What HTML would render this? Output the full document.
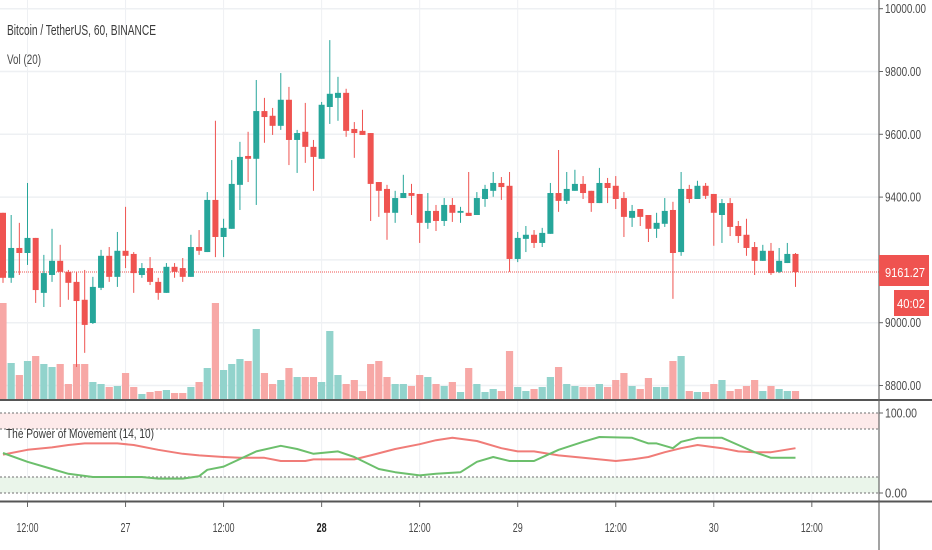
<!DOCTYPE html>
<html><head><meta charset="utf-8"><style>
html,body{margin:0;padding:0;background:#fff;}
svg{display:block;font-family:"Liberation Sans",sans-serif;}
</style></head>
<body>
<svg id="chart" width="932" height="550" viewBox="0 0 932 550" xmlns="http://www.w3.org/2000/svg"></svg>
<script>
// ---------- data ----------
const opens  = [9350,9143,9238,9222,9270,9095,9152,9197,9162,9130,9073,8999,9111,9213,9146,9229,9219,9152,9174,9130,9095,9178,9174,9146,9241,9225,9391,9273,9299,9439,9531,9522,9674,9659,9627,9710,9582,9608,9560,9522,9687,9716,9732,9617,9611,9604,9448,9426,9350,9397,9413,9410,9318,9356,9324,9375,9350,9350,9343,9394,9420,9445,9436,9203,9267,9280,9254,9283,9413,9388,9420,9442,9420,9381,9445,9436,9397,9334,9362,9343,9299,9315,9359,9225,9426,9394,9436,9410,9343,9381,9308,9280,9241,9197,9229,9162,9190,9219];
const highs  = [9350,9343,9318,9445,9270,9216,9299,9248,9168,9162,9168,9146,9232,9241,9289,9369,9225,9190,9209,9143,9190,9190,9206,9280,9295,9416,9643,9331,9518,9576,9608,9773,9716,9684,9795,9751,9614,9700,9582,9703,9900,9783,9745,9639,9678,9604,9448,9439,9420,9471,9442,9410,9413,9375,9397,9397,9369,9480,9416,9439,9480,9464,9480,9289,9308,9295,9302,9445,9550,9480,9487,9467,9420,9493,9461,9467,9416,9375,9362,9343,9350,9397,9385,9480,9439,9452,9445,9410,9394,9397,9324,9331,9257,9248,9254,9238,9254,9222];
const lows   = [9127,9127,9152,9184,9063,9050,9130,9050,9073,8859,8904,8996,9104,9130,9114,9174,9095,9143,9120,9073,9095,9143,9130,9146,9216,9225,9209,9209,9299,9359,9448,9375,9573,9598,9614,9502,9477,9509,9420,9522,9633,9643,9592,9525,9598,9324,9337,9264,9318,9397,9343,9254,9299,9292,9308,9321,9318,9340,9343,9369,9401,9391,9162,9193,9225,9238,9241,9283,9353,9378,9420,9394,9353,9381,9381,9362,9273,9305,9308,9257,9270,9305,9076,9213,9381,9394,9394,9245,9254,9276,9254,9213,9152,9197,9152,9158,9190,9114];
const closes = [9143,9238,9222,9270,9104,9158,9197,9162,9127,9069,8993,9114,9213,9146,9229,9213,9158,9174,9130,9095,9178,9162,9146,9241,9229,9391,9273,9302,9442,9528,9522,9674,9655,9627,9710,9582,9604,9560,9528,9694,9729,9732,9611,9604,9598,9442,9420,9350,9397,9413,9404,9318,9356,9324,9375,9350,9356,9340,9397,9426,9445,9432,9203,9270,9280,9254,9286,9413,9388,9426,9442,9413,9381,9445,9429,9394,9337,9356,9337,9299,9318,9356,9222,9426,9394,9436,9404,9350,9381,9305,9276,9238,9197,9229,9158,9197,9219,9161.27];
const volumes = [970,370,250,390,440,360,330,360,160,360,360,180,160,130,140,270,130,60,80,90,100,70,70,130,180,320,970,300,360,410,390,710,270,160,200,320,230,230,230,180,690,250,160,200,90,360,390,230,160,160,140,250,230,160,140,180,80,320,160,80,110,90,490,130,90,110,130,230,330,160,140,130,130,160,130,200,270,140,110,220,130,130,390,440,90,80,80,160,200,90,110,140,200,90,140,110,90,90];
const priceTicks = [10000,9800,9600,9400,9200,9000,8800];
const timeTickIdx = [3,15,27,39,51,63,75,87,99];
const timeTickLabels = ["12:00","27","12:00","28","12:00","29","12:00","30","12:00"];
const pomRedIdx = [0,3,6,8,10,14,16,19,22,24,27,29,32,34,37,38,43,45,48,51,53,55,58,61,63,65,68,71,75,77,79,81,83,85,88,90,92,94,97];
const pomRed    = [48,54,57,60,62,62,60,54,49,47,45,44,44,40,40,42,42,47,55,61,66,69,65,56,52,52,47,44,40,42,45,51,56,60,56,52,51,51,56];
const pomGreenIdx = [0,3,6,8,11,17,19,22,24,25,27,31,34,36,38,41,43,46,48,51,53,56,58,60,62,65,68,71,73,77,79,80,82,83,85,88,90,92,94,97];
const pomGreen    = [50,39,30,24,20,20,18,18,21,29,33,52,59,55,49,52,45,30,26,22,24,26,39,45,40,40,54,64,70,69,62,62,56,64,69,69,60,51,44,44];
const lastPrice = 9161.27;

// ---------- scales ----------
const PLOT_R = 879;
function xOf(i){ return 3 + i*8.17; }
function yPrice(p){ return 322.7 - (p-9000)*0.314; }
function volH(v){ return v*0.1; }
function yPom(v){ return 493 - v*0.8; }

const NS = "http://www.w3.org/2000/svg";
const svg = document.getElementById('chart');
function el(tag, attrs, parent){
  const e = document.createElementNS(NS, tag);
  for (const k in attrs) e.setAttribute(k, attrs[k]);
  (parent||svg).appendChild(e);
  return e;
}
function txt(str, attrs, parent){ const t = el('text', attrs, parent); t.textContent = str; return t; }

// grid
const grid = el('g', {});


priceTicks.forEach(p => {
  const l = el('line', {x1:0, x2:PLOT_R, y1:yPrice(p), y2:yPrice(p), stroke:'#eef0f3', 'stroke-width':1.5}, grid);
  
  
});
timeTickIdx.forEach(i => {
  const l = el('line', {x1:xOf(i), x2:xOf(i), y1:0, y2:501, stroke:'#eef0f3', 'stroke-width':1}, grid);
  
  
});

// volumes
const vg = el('g', {});


volumes.forEach((v,i) => {
  const up = closes[i] >= opens[i];
  const h = volH(v);
  const r = el('rect', {x:xOf(i)-3.6, y:400-h, width:7.2, height:h, fill: up ? '#92d3cc' : '#f7a8a6'}, vg);
  
  
});

// last price line
const lp = el('line', {x1:0, x2:PLOT_R, y1:yPrice(lastPrice), y2:yPrice(lastPrice), stroke:'#ef5350', 'stroke-width':1, 'stroke-dasharray':'1 1'});



// candles
const cg = el('g', {});


opens.forEach((o,i) => {
  const c = closes[i], up = c >= o, col = up ? '#26a69a' : '#ef5350';
  const x = xOf(i);
  const w = el('line', {x1:x, x2:x, y1:yPrice(highs[i]), y2:yPrice(lows[i]), stroke:col, 'stroke-width':1}, cg);
  
  
  const top = yPrice(Math.max(o,c)), bot = yPrice(Math.min(o,c));
  const b = el('rect', {x:x-3, y:top, width:6, height:Math.max(1.5, bot-top), fill:col}, cg);
  
  
});

// indicator pane
const ip = el('g', {});


const b1 = el('rect', {x:0, y:yPom(100), width:PLOT_R, height:yPom(80)-yPom(100), fill:'#fdeaea'}, ip);


const b2 = el('rect', {x:0, y:yPom(20), width:PLOT_R, height:yPom(0)-yPom(20), fill:'#eaf5ea'}, ip);


[100,80,20,0].forEach(v => {
  const l = el('line', {x1:0, x2:PLOT_R, y1:yPom(v), y2:yPom(v), stroke:'#8a8a8a', 'stroke-width':1.3, 'stroke-dasharray':'2 2'}, ip);
  
  
});
function pts(idx, vals){ return idx.map((i,k) => xOf(i).toFixed(1)+','+yPom(vals[k]).toFixed(1)).join(' '); }
const rl = el('polyline', {points:pts(pomRedIdx,pomRed), fill:'none', stroke:'#f07c78', 'stroke-width':2, 'stroke-linejoin':'round'}, ip);


const gl = el('polyline', {points:pts(pomGreenIdx,pomGreen), fill:'none', stroke:'#6cbf6c', 'stroke-width':2, 'stroke-linejoin':'round'}, ip);



// separators and axes
[[0,400,932,400],[0,501.5,932,501.5]].forEach(a => {
  const l = el('line', {x1:a[0], y1:a[1], x2:a[2], y2:a[3], stroke:'#555', 'stroke-width':2});
  
  
});
const ax = el('line', {x1:PLOT_R, x2:PLOT_R, y1:0, y2:550, stroke:'#666', 'stroke-width':1.2});



// price axis labels
priceTicks.forEach(p => {
  const y = yPrice(p);
  const tk = el('line', {x1:PLOT_R, x2:PLOT_R+4, y1:y, y2:y, stroke:'#666'});
  
  
  const t = txt(p.toFixed(2), {x:885, y:y+4.5, 'font-size':12.5, fill:'#4a4a4a', textLength: p>=10000 ? 41 : 36, lengthAdjust:'spacingAndGlyphs'});
  
  
});
[[100,'100.00',32],[0,'0.00',22]].forEach(a => {
  const y = yPom(a[0]);
  const tk = el('line', {x1:PLOT_R, x2:PLOT_R+4, y1:y, y2:y, stroke:'#666'});
  
  
  const t = txt(a[1], {x:885, y:y+4.5, 'font-size':12.5, fill:'#4a4a4a', textLength:a[2], lengthAdjust:'spacingAndGlyphs'});
  
  
});

// last price badges
const bx = el('rect', {x:879, y:255, width:50, height:31, fill:'#ef5350'});


const bt = txt(lastPrice.toFixed(2), {x:885, y:yPrice(lastPrice)+5, 'font-size':13, fill:'#fff', textLength:40, lengthAdjust:'spacingAndGlyphs'});


const cx = el('rect', {x:894, y:290, width:35, height:26, fill:'#ef5350'});


const ct = txt('40:02', {x:897, y:308, 'font-size':13, fill:'#fff', textLength:28, lengthAdjust:'spacingAndGlyphs'});



// time axis
timeTickIdx.forEach((i,k) => {
  const x = xOf(i);
  const tk = el('line', {x1:x, x2:x, y1:502, y2:507, stroke:'#666'});
  
  
  const lab = timeTickLabels[k];
  const t = txt(lab, {x:x, y:532, 'font-size':13, fill: lab==='28' ? '#222' : '#4a4a4a', 'font-weight': lab==='28' ? 'bold' : 'normal', 'text-anchor':'middle', textLength: lab.length>2 ? 22 : 10, lengthAdjust:'spacingAndGlyphs'});
  
  
});

// titles
const t1 = txt('Bitcoin / TetherUS, 60, BINANCE', {x:7, y:35, 'font-size':15, fill:'#3a3a3a', textLength:149, lengthAdjust:'spacingAndGlyphs'});


const t2 = txt('Vol (20)', {x:7, y:64, 'font-size':14, fill:'#4a4a4a', textLength:34, lengthAdjust:'spacingAndGlyphs'});


const t3 = txt('The Power of Movement (14, 10)', {x:6, y:438, 'font-size':13, fill:'#3a3a3a', textLength:148, lengthAdjust:'spacingAndGlyphs'});


</script>
</body></html>
